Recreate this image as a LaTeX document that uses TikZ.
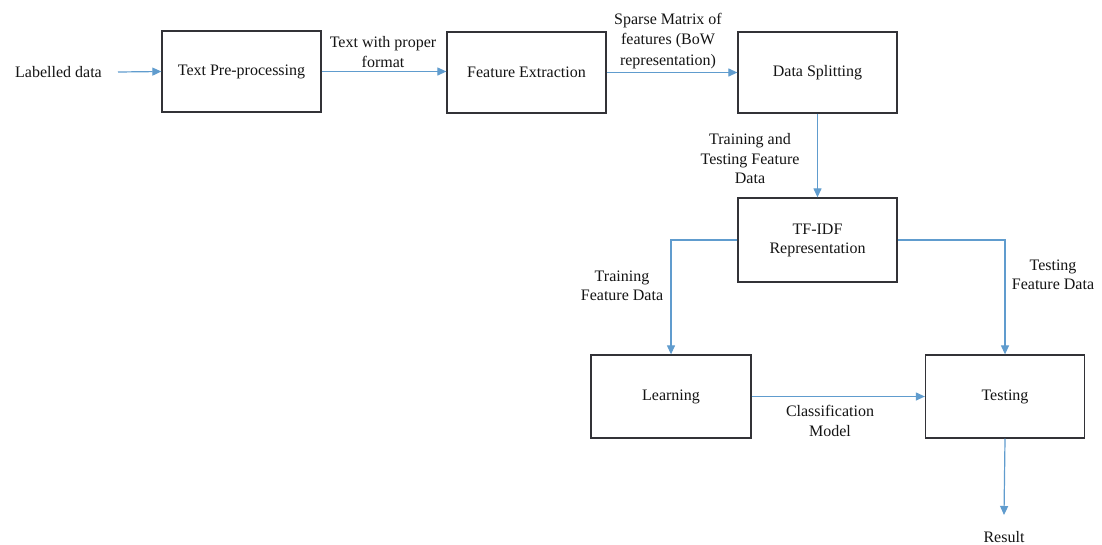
\documentclass[tikz,border=0pt]{standalone}
\usepackage{fontspec}
\setmainfont{Liberation Serif}
\newfontfamily\tnr{Liberation Serif}
\usetikzlibrary{arrows.meta}
\definecolor{arrowblue}{RGB}{96,156,206}
\definecolor{boxline}{RGB}{50,50,55}
\definecolor{txt}{RGB}{20,20,20}
\tikzset{
  procbox/.style={draw=boxline, line width=1.3pt, fill=white, minimum width=159pt, minimum height=81pt, inner sep=0pt, text=txt, align=center, font=\tnr\fontsize{16}{19}\selectfont},
  arr/.style={draw=arrowblue, line width=1.2pt, -{Triangle[length=9pt,width=8pt]}},
  lbl/.style={text=txt, align=center, inner sep=0pt, font=\tnr\fontsize{16}{19.5}\selectfont}
}
\begin{document}
\begin{tikzpicture}[x=1pt,y=-1pt]
\useasboundingbox (0,0) rectangle (1102,544);
\fill[white] (0,0) rectangle (1102,544);
% boxes
\node[procbox] (pre) at (241.5,71.5) {Text Pre-processing};
\node[procbox] (fe) at (526.5,72.5) {Feature Extraction};
\node[procbox] (ds) at (817.5,72.5) {Data Splitting};
\node[procbox, minimum height=84pt] (tfidf) at (817.5,240) {TF-IDF\\Representation};
\node[procbox, minimum width=160pt, minimum height=83pt] (learn) at (671,396.5) {Learning};
\node[procbox, minimum height=83pt] (test) at (1005,396.5) {Testing};
% free texts
\node[lbl, anchor=east] (lab) at (102,72) {Labelled data};
\coordinate (labout) at (118,72);
\node[lbl] (resl) at (1004,537) {Result};
\coordinate (resin) at (1004,515);
% connectors
\draw[arr] (labout) -- (pre.west);
\draw[arr] (pre.east) -- (fe.west |- pre.east);
\draw[arr] (fe.east) -- (ds.west);
\draw[arr] (ds.south) -- (tfidf.north);
\draw[arr] (tfidf.west) -| (learn.north);
\draw[arr] (tfidf.east) -| (test.north);
\draw[arr] (learn.east) -- (test.west);
\draw[arr] (test.south) -- (resin);
% connector labels
\node[lbl] (l1) at (383,52) {Text with proper\\format};
\node[lbl, font=\tnr\fontsize{16}{20.5}\selectfont] (l2) at (668,41) {Sparse Matrix of\\features (BoW\\representation)};
\node[lbl] (l3) at (750,159) {Training and\\Testing Feature\\Data};
\node[lbl] (l4) at (622,286) {Training\\Feature Data};
\node[lbl] (l5) at (1053,275) {Testing\\Feature Data};
\node[lbl] (l6) at (830,421) {Classification\\Model};
\end{tikzpicture}
\end{document}
